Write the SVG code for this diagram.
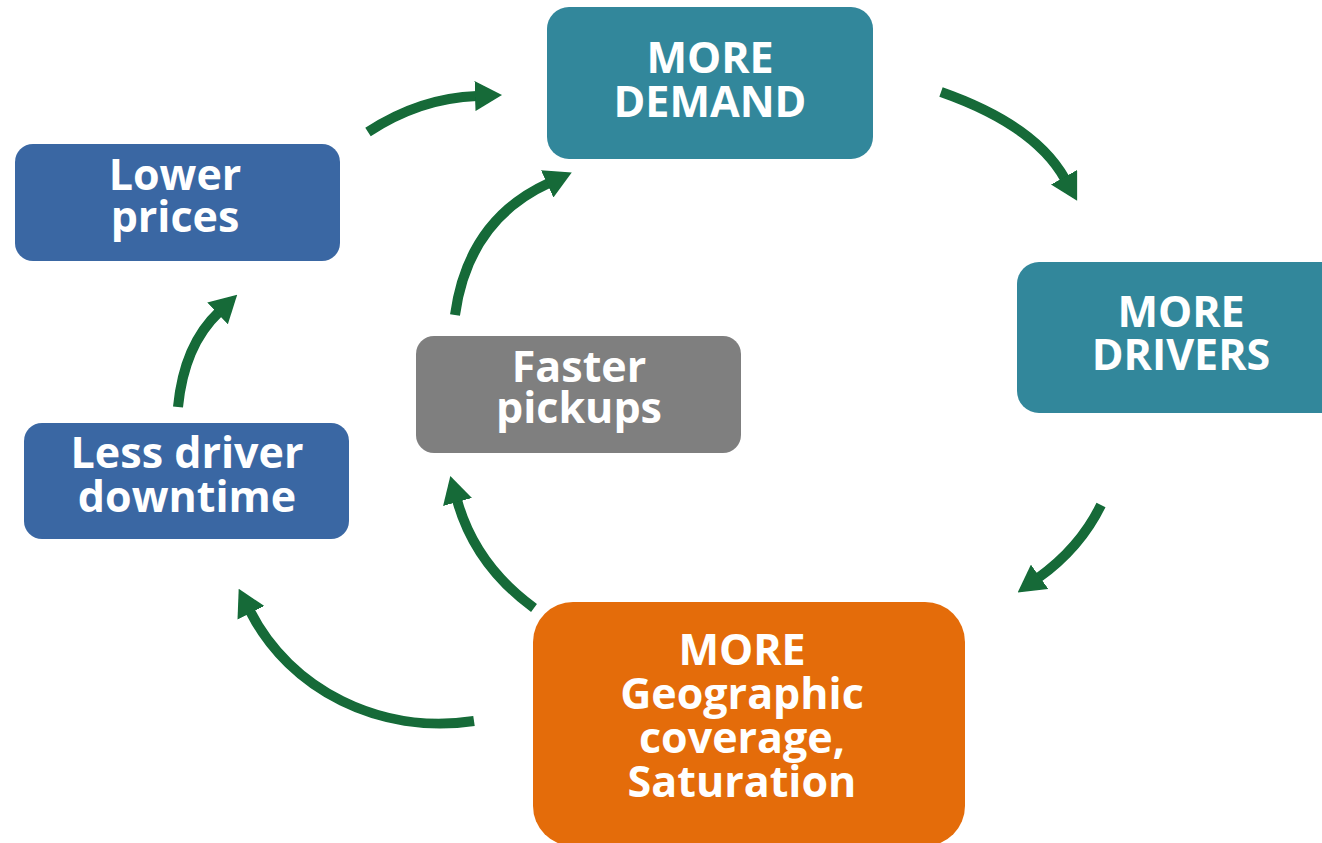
<svg xmlns="http://www.w3.org/2000/svg" width="1322" height="843" viewBox="0 0 1322 843">
  <style>
    .lbl { font-family: "Open Sans", "Liberation Sans", sans-serif; font-weight: 700; font-size: 43px; fill: #ffffff; text-anchor: middle; }
    .teal { fill: #32879b; }
    .blue { fill: #3a67a3; }
    .gray { fill: #7f7f7f; }
    .orange { fill: #e46c0a; }
    .flow { fill: none; stroke: #126b37; stroke-width: 10; marker-end: url(#head); }
  </style>
  <defs>
    <marker id="head" markerUnits="userSpaceOnUse" viewBox="0 0 27 30" refX="2" refY="15" markerWidth="27" markerHeight="30" orient="auto">
      <path d="M0,0 L27,15 L0,30 Z" fill="#126b37"/>
    </marker>
    <filter id="soft" x="-10%" y="-10%" width="120%" height="120%">
      <feGaussianBlur stdDeviation="0.7"/>
    </filter>
  </defs>
  <rect width="1322" height="843" fill="#ffffff"/>

  <!-- connectors -->
  <g id="connectors" filter="url(#soft)">
    <path class="flow" d="M368,132 Q420,98 477,96"/>
    <path class="flow" d="M941,92 Q1035,125 1065,179"/>
    <path class="flow" d="M1101,505 Q1080,548 1038,578"/>
    <path class="flow" d="M474,721 C380,735 290,690 250,611"/>
    <path class="flow" d="M178,407 Q184,345 219,312"/>
    <path class="flow" d="M455,315 Q468,220 549,183"/>
    <path class="flow" d="M534,608 Q475,565 457,500"/>
  </g>

  <g id="more-demand">
    <rect class="teal" x="547" y="7" width="326" height="152" rx="22"/>
    <text class="lbl" x="710" y="73">MORE</text>
    <text class="lbl" x="710" y="117">DEMAND</text>
  </g>

  <g id="more-drivers">
    <rect class="teal" x="1017" y="262" width="330" height="151" rx="22"/>
    <text class="lbl" x="1181" y="327">MORE</text>
    <text class="lbl" x="1181" y="370">DRIVERS</text>
  </g>

  <g id="lower-prices">
    <rect class="blue" x="15" y="144" width="325" height="117" rx="18"/>
    <text class="lbl" x="175" y="190">Lower</text>
    <text class="lbl" x="175" y="232">prices</text>
  </g>

  <g id="less-driver-downtime">
    <rect class="blue" x="24" y="423" width="325" height="116" rx="18"/>
    <text class="lbl" x="187" y="468">Less driver</text>
    <text class="lbl" x="187" y="512">downtime</text>
  </g>

  <g id="faster-pickups">
    <rect class="gray" x="416" y="336" width="325" height="117" rx="18"/>
    <text class="lbl" x="579" y="382">Faster</text>
    <text class="lbl" x="579" y="423">pickups</text>
  </g>

  <g id="more-coverage">
    <rect class="orange" x="533" y="602" width="432" height="244" rx="40"/>
    <text class="lbl" x="742" y="665">MORE</text>
    <text class="lbl" x="742" y="709">Geographic</text>
    <text class="lbl" x="742" y="753">coverage,</text>
    <text class="lbl" x="742" y="797">Saturation</text>
  </g>
</svg>
